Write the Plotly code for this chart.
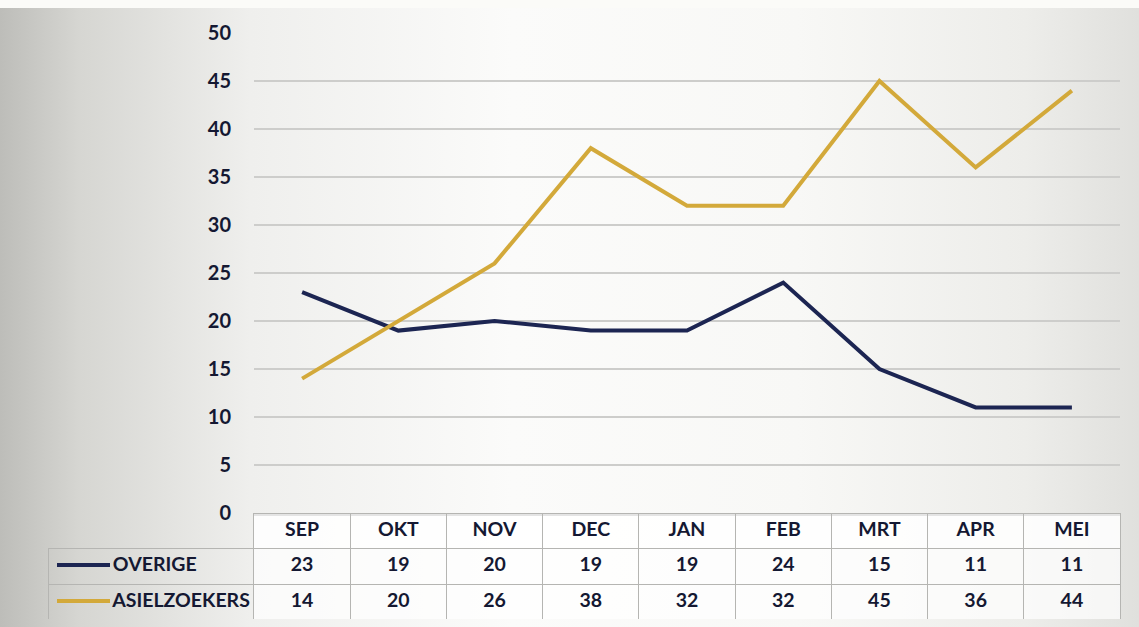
import base64

import plotly.graph_objects as go

months = ["SEP", "OKT", "NOV", "DEC", "JAN", "FEB", "MRT", "APR", "MEI"]
overige = [23, 19, 20, 19, 19, 24, 15, 11, 11]
asielzoekers = [14, 20, 26, 38, 32, 32, 45, 36, 44]
series_names = ["OVERIGE", "ASIELZOEKERS"]
y_ticks = [0, 5, 10, 15, 20, 25, 30, 35, 40, 45, 50]

NAVY = "#1c2552"
GOLD = "#d3a93a"
TEXT = "#141832"
FONT = "Lato"

W, H = 1139, 627

# photographed-paper look: soft grey vignette at the edges
bg_svg = f"""<svg xmlns='http://www.w3.org/2000/svg' width='{W}' height='{H}'>
<defs><linearGradient id='g' x1='0' y1='0' x2='1' y2='0'>
<stop offset='0' stop-color='#bdbdb9'/><stop offset='0.07' stop-color='#d6d6d2'/>
<stop offset='0.22' stop-color='#efefed'/><stop offset='0.45' stop-color='#fbfbfa'/>
<stop offset='0.7' stop-color='#f8f8f6'/><stop offset='0.9' stop-color='#ededea'/>
<stop offset='1' stop-color='#e0e0dd'/></linearGradient></defs>
<rect width='{W}' height='{H}' fill='url(#g)'/>
<rect width='{W}' height='8' fill='#fbfbf8'/></svg>"""
bg_src = "data:image/svg+xml;base64," + base64.b64encode(bg_svg.encode()).decode()

fig = go.Figure()

fig.add_trace(go.Scatter(x=months, y=overige, mode="lines", name=series_names[0],
                         line=dict(color=NAVY, width=4)))
fig.add_trace(go.Scatter(x=months, y=asielzoekers, mode="lines", name=series_names[1],
                         line=dict(color=GOLD, width=4)))

# data table under the plot; label text indented with nbsp to leave room for the key line
indent = "\u00a0" * 12
label_cells = [indent + name for name in series_names]
cell_values = [label_cells] + [[str(o), str(a)] for o, a in zip(overige, asielzoekers)]
fig.add_trace(go.Table(
    domain=dict(x=[48 / W, 1120 / W], y=[1 - 620 / H, 1 - 513 / H]),
    columnwidth=[206] + [96.25] * len(months),
    header=dict(
        values=[""] + months,
        align="center", height=35,
        fill=dict(color=["rgba(0,0,0,0)"] + ["rgba(255,255,255,0.85)"] * len(months)),
        line=dict(color=["rgba(0,0,0,0)"] + ["#b5b5b2"] * len(months), width=1),
        font=dict(family=FONT, size=19.5, color=TEXT, weight="bold"),
    ),
    cells=dict(
        values=cell_values,
        align=["left"] + ["center"] * len(months), height=36,
        fill=dict(color=["rgba(0,0,0,0)"] + ["rgba(255,255,255,0.7)"] * len(months)),
        line=dict(color="#b5b5b2", width=1),
        font=dict(family=FONT, size=19.5, color=TEXT, weight="bold"),
    ),
))

# legend key lines inside the table's label column
key_shapes = [
    dict(type="line", xref="paper", yref="paper", layer="above",
         x0=57 / W, x1=110 / W, y0=1 - y / H, y1=1 - y / H,
         line=dict(color=c, width=4))
    for y, c in [(565, NAVY), (601, GOLD)]
]

fig.update_layout(
    width=W, height=H,
    autosize=False,
    margin=dict(l=0, r=0, t=0, b=0, pad=0),
    paper_bgcolor="white",
    plot_bgcolor="rgba(0,0,0,0)",
    showlegend=False,
    shapes=key_shapes,
    images=[dict(source=bg_src, xref="paper", yref="paper", x=0, y=1,
                 sizex=1, sizey=1, sizing="stretch", layer="below")],
    xaxis=dict(
        domain=[254 / W, 1120 / W],
        range=[-0.5, 8.5],
        showticklabels=False, ticks="", automargin=False,
        showgrid=False, zeroline=False,
        showline=True, linecolor="#4a4a4a", linewidth=3,
    ),
    yaxis=dict(
        domain=[1 - 513 / H, 1 - 33 / H],
        range=[0, 50],
        tickvals=y_ticks, automargin=False,
        showgrid=True, gridcolor="#cdcdcb", gridwidth=1.5,
        zeroline=False,
        ticks="", ticklabelstandoff=22,
        tickfont=dict(family=FONT, size=20, color=TEXT, weight="bold"),
    ),
)

fig.write_html("out.html", config={"displayModeBar": False},
               post_script="document.body.style.margin='0';")
